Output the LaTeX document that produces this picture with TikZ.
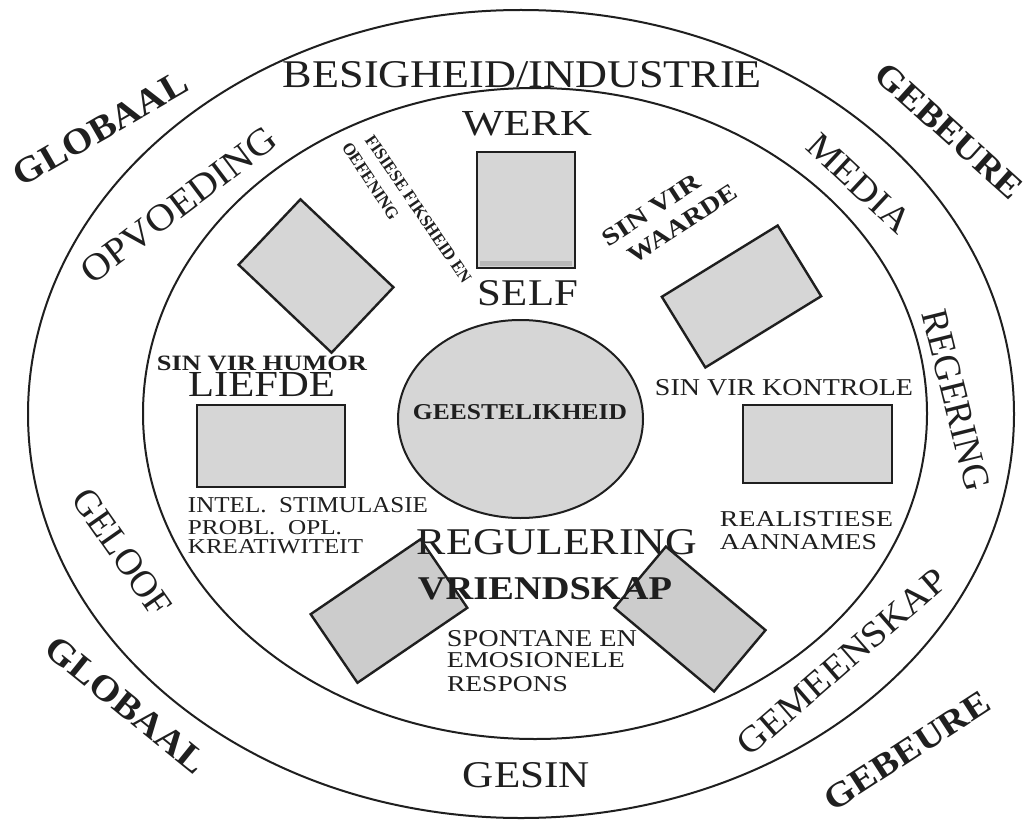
\documentclass[tikz,border=0pt]{standalone}
\usepackage{fontspec}
\setmainfont{Liberation Serif}
\usepackage{graphicx}
\usetikzlibrary{shapes.geometric}
\definecolor{boxfill}{gray}{0.84}
\definecolor{boxfillb}{gray}{0.80}
\definecolor{inkc}{gray}{0.12}
\newcommand{\fitlbl}[3]{\resizebox{#1pt}{#2pt}{#3}}
\begin{document}
\begin{tikzpicture}[x=1pt,y=-1pt,
  ring/.style={draw=inkc, line width=2pt, ellipse, inner sep=0pt},
  panel/.style={draw=inkc, line width=2.4pt, fill=boxfill, rectangle, inner sep=0pt},
  lbl/.style={inner sep=0pt, outer sep=0pt, text=inkc}]
\useasboundingbox[fill=white] (0,0) rectangle (1030,821);
% rings
\node[ring, minimum width=986pt, minimum height=808pt] (outer) at (521,414) {};
\node[ring, minimum width=784pt, minimum height=651pt] (inner) at (535,413.5) {};
\node[ring, fill=boxfill, minimum width=245pt, minimum height=198pt] (spirit) at (520.5,419) {};
% boxes
\node[panel, minimum width=98pt, minimum height=116pt] (werkbox) at (526,210) {};
\fill[gray!55] (480,261) rectangle (572,266);
\node[panel, minimum width=128pt, minimum height=90pt, rotate=-43.4] (opvbox) at (316,276) {};
\node[panel, minimum width=136pt, minimum height=83pt, rotate=31.6] (waardebox) at (741.5,296.5) {};
\node[panel, minimum width=148pt, minimum height=82pt] (liefdebox) at (271,446) {};
\node[panel, minimum width=149pt, minimum height=78pt] (kontrolebox) at (817.5,444) {};
\node[panel, fill=boxfillb, minimum width=133pt, minimum height=83pt, rotate=34.3] (vriendL) at (389,611) {};
\node[panel, fill=boxfillb, minimum width=130pt, minimum height=80pt, rotate=-40] (vriendR) at (690,619) {};
% outer ring labels
\node[lbl, rotate=30] (globTL) at (100.5,128.5) {\fitlbl{195}{24}{\bfseries GLOBAAL}};
\node[lbl, rotate=-42] (gebTR) at (949,131) {\fitlbl{185}{23}{\bfseries GEBEURE}};
\node[lbl, rotate=-39] (globBL) at (126,705) {\fitlbl{195}{24}{\bfseries GLOBAAL}};
\node[lbl, rotate=33] (gebBR) at (907,751) {\fitlbl{190}{23}{\bfseries GEBEURE}};
% middle ring labels
\node[lbl] (besig) at (522.5,74.5) {\fitlbl{479}{26}{BESIGHEID/INDUSTRIE}};
\node[lbl, rotate=37] (opv) at (179,205) {\fitlbl{235}{25}{OPVOEDING}};
\node[lbl, rotate=-43] (media) at (859,183) {\fitlbl{128}{24}{MEDIA}};
\node[lbl, rotate=-76] (regering) at (956,400) {\fitlbl{185}{25}{REGERING}};
\node[lbl, rotate=-55] (geloof) at (122,552) {\fitlbl{146}{25}{GELOOF}};
\node[lbl, rotate=41] (gemeen) at (842,662) {\fitlbl{265}{24}{GEMEENSKAP}};
\node[lbl] (gesin) at (526.5,775.5) {\fitlbl{127}{25}{GESIN}};
% inner labels
\node[lbl] (werk) at (527,124) {\fitlbl{130}{24}{WERK}};
\node[lbl] (self) at (528,293.5) {\fitlbl{100}{25}{SELF}};
\node[lbl] (liefde) at (261.5,385) {\fitlbl{147}{24}{LIEFDE}};
\node[lbl] (humor) at (262,363.5) {\fitlbl{210}{14.5}{\bfseries SIN VIR HUMOR}};
\node[lbl] (geest) at (520,412.5) {\fitlbl{214}{15}{\bfseries GEESTELIKHEID}};
\node[lbl] (regul) at (557,542.5) {\fitlbl{280}{25}{REGULERING}};
\node[lbl] (vriend) at (545,589) {\fitlbl{254}{22}{\bfseries VRIENDSKAP}};
\node[lbl] (spon1) at (542,638.5) {\fitlbl{190}{16}{SPONTANE EN}};
\node[lbl] (spon2) at (536,660.5) {\fitlbl{178}{15}{EMOSIONELE}};
\node[lbl] (spon3) at (507.5,684.5) {\fitlbl{121}{15}{RESPONS}};
\node[lbl] (intel1) at (308,505.5) {\fitlbl{240}{15}{INTEL.~~STIMULASIE}};
\node[lbl] (intel2) at (265,528) {\fitlbl{154}{14}{PROBL.~~OPL.}};
\node[lbl] (intel3) at (275.5,547) {\fitlbl{175}{14}{KREATIWITEIT}};
\node[lbl] (kontrole) at (784,388) {\fitlbl{258}{16}{SIN VIR KONTROLE}};
\node[lbl] (real1) at (806.5,519.5) {\fitlbl{173}{15}{REALISTIESE}};
\node[lbl] (real2) at (798.5,542.5) {\fitlbl{157}{15}{AANNAMES}};
\node[lbl, rotate=33] (waarde1) at (651.5,210) {\fitlbl{112}{16}{\bfseries SIN VIR}};
\node[lbl, rotate=33] (waarde2) at (682.5,224) {\fitlbl{125}{16}{\bfseries WAARDE}};
\node[lbl, rotate=-55.7, anchor=west] (fis1) at (369,137) {\fitlbl{175}{11.5}{\bfseries FISIESE FIKSHEID EN}};
\node[lbl, rotate=-56.5, anchor=west] (fis2) at (346,144) {\fitlbl{89}{11.5}{\bfseries OEFENING}};
\end{tikzpicture}
\end{document}
